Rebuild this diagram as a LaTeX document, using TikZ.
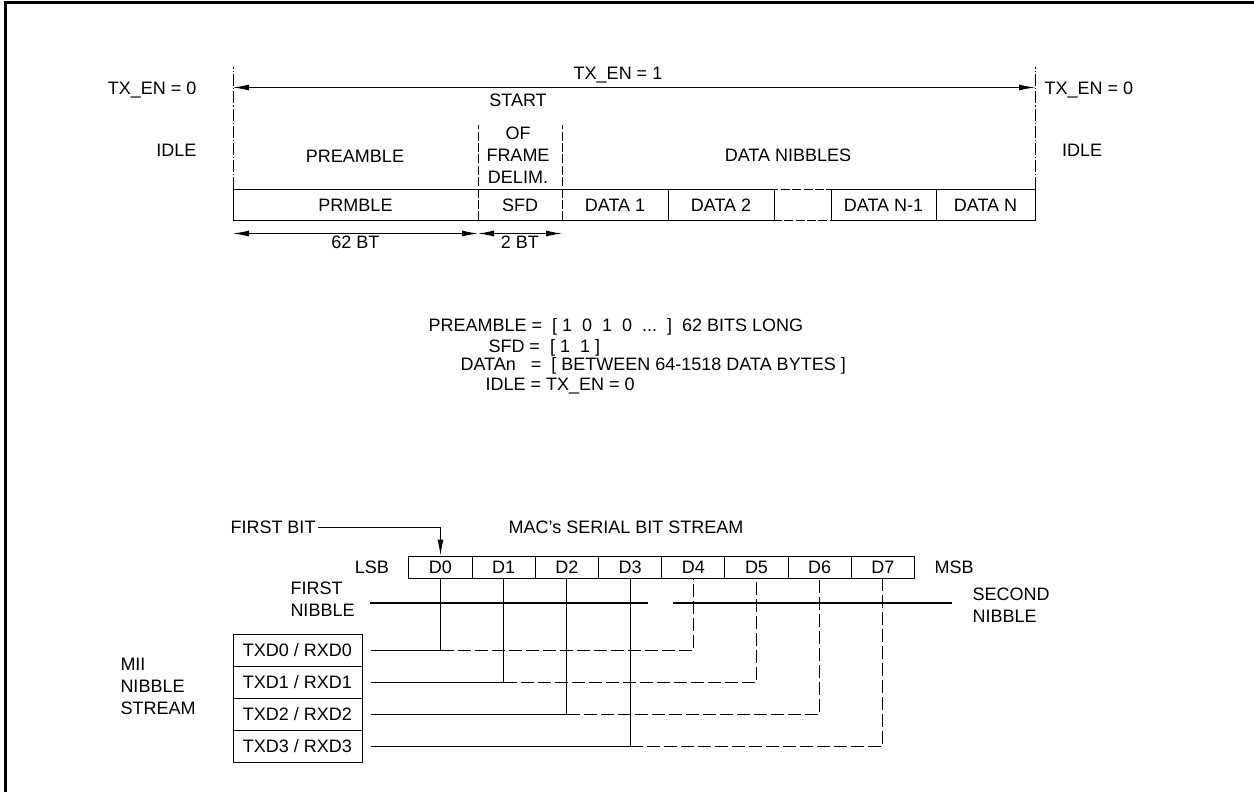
\documentclass[tikz,border=0pt]{standalone}
\usepackage{fontspec}
\setmainfont{Liberation Sans}
\usetikzlibrary{arrows.meta,positioning}
\begin{document}
\begin{tikzpicture}[x=0.5pt,y=-0.5pt,line width=0.5pt,
    font=\fontsize{9pt}{11pt}\selectfont,
    >={Latex[length=8pt,width=3pt]},
    every node/.style={inner sep=1pt},
    cell/.style={minimum height=15pt,inner sep=0pt,anchor=west},
    bit/.style={draw,minimum width=31.6pt,minimum height=11pt,inner sep=0pt},
    port/.style={draw,minimum width=64.5pt,minimum height=16pt,inner sep=0pt},
    dashdot/.style={dash pattern=on 6pt off 1pt on 0.6pt off 1pt},
    brk/.style={dash pattern=on 4.5pt off 1.2pt},
    hid/.style={dash pattern=on 6.5pt off 2pt},
    nibble/.style={line width=1.4pt}]
  \useasboundingbox (0,0) rectangle (1254,792);
  \draw[line width=1.5pt] (5,792) -- (5,3) -- (1254,3);

  % frame row
  \node[cell,minimum width=122pt] (prmble) at (233,205) {PRMBLE};
  \node[cell,minimum width=41.5pt,right=0pt of prmble] (sfd) {SFD};
  \node[cell,minimum width=52.5pt,right=0pt of sfd] (data1) {DATA 1};
  \node[cell,minimum width=52.5pt,right=0pt of data1] (data2) {DATA 2};
  \node[cell,minimum width=28pt,right=0pt of data2] (gap) {};
  \node[cell,minimum width=52pt,right=0pt of gap] (datan1) {DATA N-1};
  \node[cell,minimum width=49pt,right=0pt of datan1] (datan) {DATA N};
  \draw (data2.north east) -- (prmble.north west) -- (prmble.south west) -- (data2.south east);
  \draw (datan1.north west) -- (datan.north east) -- (datan.south east) -- (datan1.south west);
  \draw (data1.north east) -- (data1.south east) (data2.north east) -- (data2.south east);
  \draw (datan1.north west) -- (datan1.south west) (datan1.north east) -- (datan1.south east);
  \draw[brk] ([xshift=-8pt]gap.north west) -- ([xshift=3pt]gap.north east);
  \draw[brk] ([xshift=-12pt]gap.south west) -- ([xshift=4pt]gap.south east);
  \draw[brk] (sfd.south west) -- ++(0,-95);
  \draw[brk] (sfd.south east) -- ++(0,-95);
  \draw[dashdot] (prmble.north west) -- ++(0,-122);
  \draw[dashdot] (datan.north east) -- ++(0,-122);

  \coordinate (enl) at ([yshift=51pt]prmble.north west);
  \coordinate (enr) at ([yshift=51pt]datan.north east);
  \draw[<->] (enl) -- (enr);
  \node (en1) at (618,75) {TX\_EN = 1};
  \node[anchor=east] (en0l) at (199,90) {TX\_EN = 0};
  \node[anchor=west] (en0r) at (1042,90) {TX\_EN = 0};
  \node[anchor=east] (idlel) at (199,150) {IDLE};
  \node (idler) at (1082,150) {IDLE};
  \node (start) at (518,100) {START};
  \node[align=center] (ofd) at (518,155) {OF\\FRAME\\DELIM.};
  \node (pre) at (355,156) {PREAMBLE};
  \node (nib) at (788,155) {DATA NIBBLES};

  \coordinate (bt0) at ([yshift=-6.5pt]prmble.south west);
  \coordinate (bt1) at ([yshift=-6.5pt]prmble.south east);
  \coordinate (bt2) at ([yshift=-6.5pt]sfd.south east);
  \draw[<->] (bt0) -- node[below] {62 BT} (bt1);
  \draw[<->] (bt1) -- node[below] {2 BT} (bt2);

  % legend
  \node[anchor=west] (lpre) at (426,327) {PREAMBLE =\ \ [ 1\ \ 0\ \ 1\ \ 0\ \ ...\ \ ]\ \ 62 BITS LONG};
  \node[anchor=west] (lsfd) at (486,348) {SFD =\ \ [ 1\ \ 1 ]};
  \node[anchor=west] (ldat) at (458,366) {DATAn\ \ \ =\ \ [ BETWEEN 64-1518 DATA BYTES ]};
  \node[anchor=west] (lidl) at (483,386) {IDLE = TX\_EN = 0};

  % bit stream
  \foreach \i in {0,...,7}
    \node[bit] (b\i) at ({440.5+63.2*\i},567) {D\i};
  \node[left=8.5pt of b0] (lsb) {LSB};
  \node[right=8.5pt of b7] (msb) {MSB};
  \node[anchor=east] (fbit) at (318,527) {FIRST BIT};
  \draw[->] (fbit.east) -| (b0.north);
  \node (mac) at (626,527) {MAC's SERIAL BIT STREAM};

  \coordinate (n1a) at (370,603);
  \coordinate (n1b) at (648,603);
  \coordinate (n2a) at (673,603);
  \coordinate (n2b) at (952,603);
  \draw[nibble] (n1a) -- (n1b) (n2a) -- (n2b);
  \node[anchor=west,align=left] (fn) at (288,599) {FIRST\\NIBBLE};
  \node[anchor=west,align=left] (sn) at (970,605) {SECOND\\NIBBLE};

  \foreach \i/\y in {0/650,1/682,2/714.5,3/746.5}
    \node[port] (p\i) at (297.5,\y) {TXD\i{} / RXD\i};
  \node[anchor=west,align=left] (mii) at (118,686) {MII\\NIBBLE\\STREAM};

  \foreach \i [evaluate=\i as \j using int(\i+4)] in {0,...,3} {
    \coordinate (s\i) at ([xshift=4pt]p\i.east);
    \draw (s\i) -- (b\i.south |- s\i) -- (b\i.south);
    \draw[hid] (b\i.south |- s\i) -- (b\j.south |- s\i) -- (b\j.south);
  }
\end{tikzpicture}
\end{document}
